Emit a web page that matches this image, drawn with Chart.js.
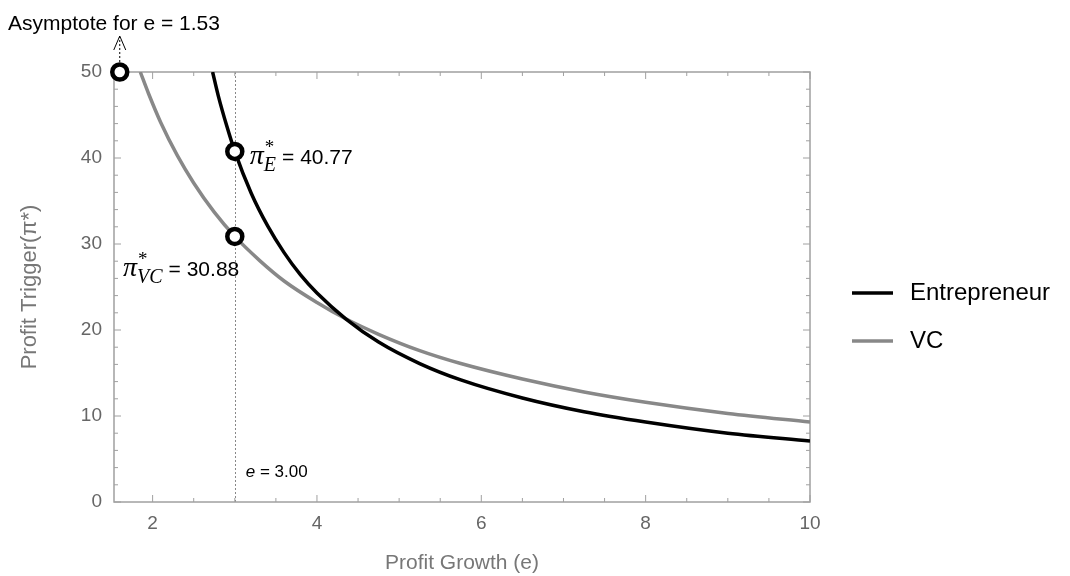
<!DOCTYPE html>
<html>
<head>
<meta charset="utf-8">
<script src="https://cdn.jsdelivr.net/npm/chart.js@4.4.1/dist/chart.umd.min.js"></script>
<style>
  html, body { margin: 0; padding: 0; background: #fff; }
  #wrap { width: 1070px; height: 576px; }
</style>
</head>
<body>
<div id="wrap"><canvas id="myChart" width="1070" height="576"></canvas></div>
<script>
// values
const entE = [2.73, 2.8, 2.9, 3.0, 3.2, 3.4, 3.6, 3.8, 4.0, 4.35, 4.75, 5.25, 5.75, 6.5, 7.25, 8, 9, 10];
const entProfit = [50.0, 47.2, 43.8, 40.77, 35.9, 32.1, 29.0, 26.4, 24.3, 21.3, 18.6, 16.1, 14.2, 12.1, 10.5, 9.3, 8.0, 7.1];
const vcE = [1.85, 1.95, 2.1, 2.3, 2.5, 2.75, 3.0, 3.3, 3.6, 4.0, 4.35, 4.75, 5.25, 5.75, 6.5, 7.25, 8, 9, 10];
const vcProfit = [50.0, 47.5, 44.1, 40.3, 37.1, 33.7, 30.88, 28.1, 25.7, 23.2, 21.3, 19.5, 17.6, 16.1, 14.3, 12.8, 11.6, 10.3, 9.3];
const markE = [3.0, 3.0, 1.6];
const markProfit = [40.77, 30.88, 50];
const xTicks = [2, 4, 6, 8, 10];
const yTicks = [0, 10, 20, 30, 40, 50];
const xMinor = [2.5, 3, 3.5, 4.5, 5, 5.5, 6.5, 7, 7.5, 8.5, 9, 9.5];
const yMinor = [2, 4, 6, 8, 12, 14, 16, 18, 22, 24, 26, 28, 32, 34, 36, 38, 42, 44, 46, 48];

Chart.defaults.font.family = "'Liberation Sans', Arial, sans-serif";

const sans = "'Liberation Sans', Arial, sans-serif";
const serif = "'Liberation Serif', 'Times New Roman', serif";
const frameColor = '#a0a0a0';

// frame with inside ticks on all four sides, plus the dashed e = 3 guide
const framePlugin = {
  id: 'frame',
  beforeDatasetsDraw(chart) {
    const { ctx, chartArea: a, scales: { x, y } } = chart;
    ctx.save();
    ctx.strokeStyle = '#888';
    ctx.lineWidth = 1;
    ctx.setLineDash([2, 2]);
    const gx = Math.round(x.getPixelForValue(3)) + 0.5;
    ctx.beginPath();
    ctx.moveTo(gx, a.top);
    ctx.lineTo(gx, a.bottom);
    ctx.stroke();
    ctx.setLineDash([]);

    ctx.strokeStyle = frameColor;
    ctx.lineWidth = 1.5;
    ctx.strokeRect(a.left, a.top, a.right - a.left, a.bottom - a.top);
    ctx.lineWidth = 1;
    const tickX = (vals, len) => vals.forEach(v => {
      const px = x.getPixelForValue(v);
      ctx.beginPath();
      ctx.moveTo(px, a.bottom); ctx.lineTo(px, a.bottom - len);
      ctx.moveTo(px, a.top); ctx.lineTo(px, a.top + len);
      ctx.stroke();
    });
    const tickY = (vals, len) => vals.forEach(v => {
      const py = y.getPixelForValue(v);
      ctx.beginPath();
      ctx.moveTo(a.left, py); ctx.lineTo(a.left + len, py);
      ctx.moveTo(a.right, py); ctx.lineTo(a.right - len, py);
      ctx.stroke();
    });
    tickX(xTicks, 7); tickX(xMinor, 4);
    tickY(yTicks, 7); tickY(yMinor, 4);
    ctx.restore();
  }
};

// annotations and legend
const notesPlugin = {
  id: 'notes',
  afterDraw(chart) {
    const { ctx, scales: { x, y } } = chart;
    ctx.save();
    ctx.fillStyle = '#000';
    ctx.textBaseline = 'alphabetic';
    ctx.textAlign = 'left';

    const piLabel = (px, py, sub, value) => {
      ctx.font = 'italic 28px ' + serif;
      ctx.fillText('\u03c0', px, py);
      const w = ctx.measureText('\u03c0').width;
      ctx.font = '19px ' + serif;
      ctx.fillText('*', px + w + 1, py - 11);
      ctx.font = 'italic 20px ' + serif;
      ctx.fillText(sub, px + w, py + 7);
      const sw = ctx.measureText(sub).width;
      ctx.font = '21px ' + sans;
      ctx.fillText('= ' + value, px + w + sw + 6, py);
    };

    const ex = x.getPixelForValue(3);
    piLabel(ex + 15, y.getPixelForValue(40.77) + 13, 'E', '40.77');
    piLabel(123, y.getPixelForValue(30.88) + 40, 'VC', '30.88');

    ctx.font = 'italic 17px ' + sans;
    ctx.fillText('e', ex + 11, 477);
    const ew = ctx.measureText('e').width;
    ctx.font = '17px ' + sans;
    ctx.fillText(' = 3.00', ex + 11 + ew, 477);

    // asymptote note with dashed arrow
    const ax = x.getPixelForValue(markE[2]);
    ctx.font = '21px ' + sans;
    ctx.fillText('Asymptote for e = 1.53', 8, 30);
    ctx.strokeStyle = '#000';
    ctx.lineWidth = 1;
    ctx.setLineDash([2, 2]);
    ctx.beginPath();
    ctx.moveTo(ax, 62); ctx.lineTo(ax, 37);
    ctx.stroke();
    ctx.setLineDash([]);
    ctx.beginPath();
    ctx.moveTo(ax - 6, 50); ctx.lineTo(ax, 36); ctx.lineTo(ax + 6, 50);
    ctx.stroke();

    // legend
    chart.data.datasets.filter(d => d.label).forEach((d, i) => {
      const ly = 293 + i * 48;
      ctx.strokeStyle = d.borderColor;
      ctx.lineWidth = 3.5;
      ctx.beginPath();
      ctx.moveTo(852, ly); ctx.lineTo(893, ly);
      ctx.stroke();
      ctx.fillStyle = '#000';
      ctx.font = '24px ' + sans;
      ctx.textBaseline = 'middle';
      ctx.fillText(d.label, 910, ly);
    });
    ctx.restore();
  }
};

const ctx = document.getElementById('myChart');

new Chart(ctx, {
  type: 'line',
  data: {
    datasets: [{
      type: 'scatter',
      label: '',
      data: markE.map((e, i) => ({ x: e, y: markProfit[i] })),
      pointRadius: 7.5,
      pointBorderWidth: 4.5,
      pointBackgroundColor: '#fff',
      pointBorderColor: '#000',
      showLine: false,
      clip: false,
      order: 0
    }, {
      label: 'Entrepreneur',
      data: entE.map((e, i) => ({ x: e, y: entProfit[i] })),
      borderColor: '#000',
      borderWidth: 3.5,
      pointRadius: 0,
      cubicInterpolationMode: 'monotone',
      order: 1
    }, {
      label: 'VC',
      data: vcE.map((e, i) => ({ x: e, y: vcProfit[i] })),
      borderColor: '#888',
      borderWidth: 3.5,
      pointRadius: 0,
      cubicInterpolationMode: 'monotone',
      order: 2
    }]
  },
  options: {
    responsive: false,
    animation: false,
    events: [],
    layout: { padding: { left: 0, top: 72, right: 260, bottom: 0 } },
    plugins: { legend: { display: false }, tooltip: { enabled: false } },
    scales: {
      x: {
        type: 'linear',
        min: 1.53,
        max: 10,
        afterBuildTicks: s => { s.ticks = xTicks.map(v => ({ value: v })); },
        afterFit: s => { s.height = 74; },
        grid: { display: false, drawTicks: false },
        border: { display: false },
        ticks: { color: '#666', font: { size: 19 }, padding: 10 },
        title: { display: true, text: 'Profit Growth (e)', color: '#777', font: { size: 21 }, padding: { bottom: 0 } }
      },
      y: {
        type: 'linear',
        min: 0,
        max: 50,
        afterBuildTicks: s => { s.ticks = yTicks.map(v => ({ value: v })); },
        afterFit: s => { s.width = 114; },
        grid: { display: false, drawTicks: false },
        border: { display: false },
        ticks: { color: '#666', font: { size: 19 }, padding: 12 },
        title: { display: true, text: 'Profit Trigger(\u03c0*)', color: '#777', font: { size: 22 }, padding: { top: 17 } }
      }
    }
  },
  plugins: [framePlugin, notesPlugin]
});
</script>
</body>
</html>
